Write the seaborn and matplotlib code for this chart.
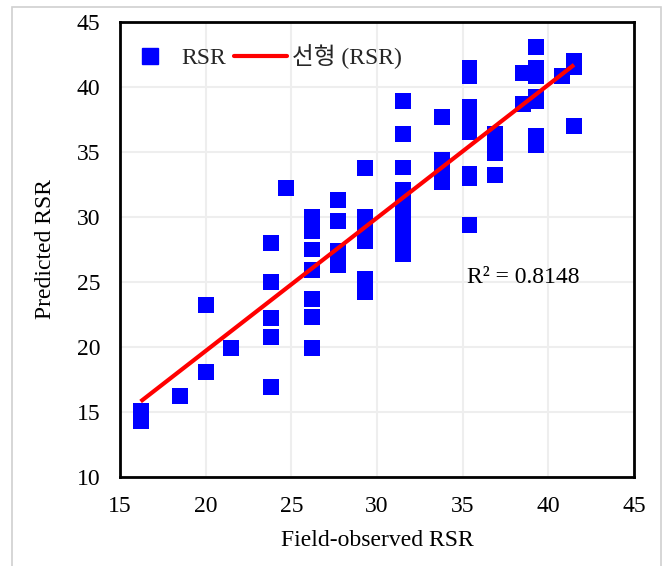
import matplotlib
matplotlib.use("Agg")
import matplotlib.pyplot as plt
import seaborn as sns
import pandas as pd
from matplotlib.lines import Line2D
from matplotlib.patches import Rectangle

# Field-observed vs. predicted RSR
observed = [
    16.2, 16.2,
    18.5,
    20.0, 20.0,
    21.5,
    23.8, 23.8, 23.8, 23.8, 23.8,
    24.7,
    26.2, 26.2, 26.2, 26.2, 26.2, 26.2, 26.2, 26.2,
    27.7, 27.7, 27.7, 27.7, 27.7,
    29.3, 29.3, 29.3, 29.3, 29.3, 29.3, 29.3,
    31.5, 31.5, 31.5, 31.5, 31.5, 31.5, 31.5, 31.5, 31.5, 31.5, 31.5,
    33.8, 33.8, 33.8, 33.8,
    35.4, 35.4, 35.4, 35.4, 35.4, 35.4, 35.4, 35.4, 35.4,
    36.9, 36.9, 36.9, 36.9,
    38.5, 38.5,
    39.3, 39.3, 39.3, 39.3, 39.3, 39.3, 39.3,
    40.8,
    41.5, 41.5, 41.5,
]
predicted = [
    15.1, 14.3,
    16.2,
    23.2, 18.1,
    19.95,
    28.0, 25.0, 22.25, 20.8, 16.9,
    32.2,
    30.0, 29.5, 28.9, 27.5, 25.9, 23.7, 22.3, 19.9,
    31.3, 29.7, 27.4, 26.9, 26.3,
    33.75, 30.0, 29.4, 28.8, 28.15, 25.2, 24.2,
    38.95, 36.4, 33.8, 32.1, 31.5, 30.8, 30.2, 29.6, 29.0, 28.4, 27.15,
    37.7, 34.4, 33.9, 32.7,
    41.45, 40.8, 38.5, 37.8, 37.1, 36.5, 33.3, 33.0, 29.4,
    36.4, 35.6, 34.9, 33.2,
    41.1, 38.7,
    43.05, 41.5, 40.85, 39.2, 38.9, 36.25, 35.5,
    40.85,
    42.0, 41.55, 37.0,
]
r_squared_label = "R\u00b2 = 0.8148"
x_ticks = [15, 20, 25, 30, 35, 40, 45]
y_ticks = [10, 15, 20, 25, 30, 35, 40, 45]

df = pd.DataFrame({"observed": observed, "predicted": predicted})

sns.set_theme(style="white")
serif = ["Liberation Serif", "Noto Sans CJK KR", "DejaVu Sans"]
plt.rcParams["font.family"] = serif

fig = plt.figure(figsize=(6.65, 5.66), dpi=100)
ax = fig.add_axes([0.1805, 0.1572, 0.7729, 0.8040])

# thin outer border of the figure
fig.patches.append(Rectangle((12 / 665, -0.02), 649 / 665, 1.02 - 7 / 566,
                             transform=fig.transFigure, fill=False,
                             edgecolor="#d0d0d0", linewidth=1.2, zorder=0))

sns.scatterplot(data=df, x="observed", y="predicted", ax=ax, marker="s", s=130,
                color="#0000FF", edgecolor="none", linewidth=0, zorder=3)
sns.regplot(data=df, x="observed", y="predicted", ax=ax, scatter=False, ci=None,
            color="#FF0000", line_kws={"linewidth": 3.0, "solid_capstyle": "butt", "zorder": 4})

ax.set_xlim(15, 45)
ax.set_ylim(10, 45)
ax.set_xticks(x_ticks)
ax.set_yticks(y_ticks)
ax.tick_params(axis="x", labelsize=17, length=0, pad=14, colors="#000000")
ax.tick_params(axis="y", labelsize=17, length=0, pad=14, colors="#000000")
ax.grid(True, color="#eeeeee", linewidth=1.5, zorder=0)
ax.set_axisbelow(True)
for sp in ax.spines.values():
    sp.set_color("black")
    sp.set_linewidth(2.0)

ax.set_xlabel("Field-observed RSR", fontsize=17, labelpad=9, color="black")
ax.set_ylabel("Predicted RSR", fontsize=17, labelpad=15, color="black")

ax.text(35.26, 25.38, r_squared_label, fontsize=17, color="black", ha="left", va="center")

handles = [
    Line2D([], [], marker="s", linestyle="none", markersize=11.5, color="#0000FF"),
    Line2D([], [], color="#FF0000", linewidth=3.0),
]
ax.legend(handles, ["RSR", "선형 (RSR)"], loc="center left", bbox_to_anchor=(0.007, 0.923),
          ncol=2, frameon=False, fontsize=17, handlelength=2.25, columnspacing=0.34,
          handletextpad=0.2, borderaxespad=0.0, borderpad=0.0)

fig.savefig("out.png", dpi=100)
